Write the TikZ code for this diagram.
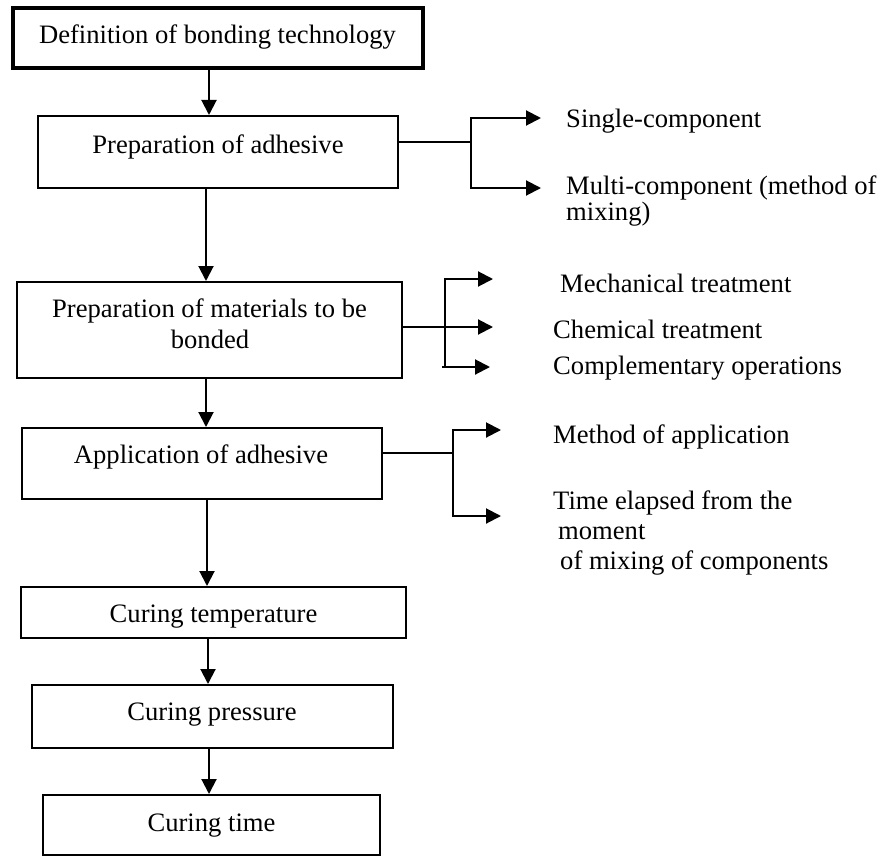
\documentclass[tikz,border=0pt]{standalone}
\usepackage{fontspec}
\setmainfont{Liberation Serif}
\usetikzlibrary{arrows.meta}
\begin{document}
\begin{tikzpicture}[x=1pt,y=-1pt,
  box/.style={draw, line width=2pt, inner sep=0pt, rectangle},
  lbl/.style={font=\fontsize{26.6}{30}\selectfont, inner sep=0pt, anchor=base},
  side/.style={font=\fontsize{26.6}{30}\selectfont, inner sep=0pt, anchor=base west},
  conn/.style={line width=2pt},
  arr/.style={line width=2pt, -{Triangle[length=15pt,width=15pt]}}]
\useasboundingbox (0,0) rectangle (882,856);

% boxes
\node[box, line width=4pt, minimum width=410pt, minimum height=60pt] (b1) at (218,38) {};
\node[box, minimum width=360pt, minimum height=72pt] (b2) at (218,152) {};
\node[box, minimum width=385pt, minimum height=96pt] (b3) at (209.5,330) {};
\node[box, minimum width=360pt, minimum height=71pt] (b4) at (202,463.5) {};
\node[box, minimum width=385pt, minimum height=51pt] (b5) at (213.5,612.5) {};
\node[box, minimum width=361pt, minimum height=63pt] (b6) at (212.5,716.5) {};
\node[box, minimum width=337pt, minimum height=60pt] (b7) at (211.5,825) {};

% box texts
\node[lbl] (t1) at (217.5,43.5) {Definition of bonding technology};
\node[lbl] (t2) at (218,153) {Preparation of adhesive};
\node[lbl] (t3a) at (209.5,317) {Preparation of materials to be};
\node[lbl] (t3b) at (210,348) {bonded};
\node[lbl] (t4) at (201,463) {Application of adhesive};
\node[lbl] (t5) at (213.5,622) {Curing temperature};
\node[lbl] (t6) at (212,720) {Curing pressure};
\node[lbl] (t7) at (211.5,831) {Curing time};

% main arrows
\coordinate (x1) at (209,0);
\coordinate (x2) at (206,0);
\coordinate (x3) at (206,0);
\coordinate (x4) at (207,0);
\coordinate (x5) at (208,0);
\coordinate (x6) at (209,0);
\draw[arr] (b1.south -| x1) -- (b2.north -| x1);
\draw[arr] (b2.south -| x2) -- (b3.north -| x2);
\draw[arr] (b3.south -| x3) -- (b4.north -| x3);
\draw[arr] (b4.south -| x4) -- (b5.north -| x4);
\draw[arr] (b5.south -| x5) -- (b6.north -| x5);
\draw[arr] (b6.south -| x6) -- (b7.north -| x6);

% branch from preparation of adhesive
\coordinate (j2) at (471,142);
\coordinate (j2a) at (471,118);
\coordinate (j2b) at (471,188);
\coordinate (e2a) at (541,118);
\coordinate (e2b) at (541,188);
\draw[conn] (b2.east |- j2) -- (j2);
\draw[arr] (j2) -- (j2a) -- (e2a);
\draw[arr] (j2) -- (j2b) -- (e2b);
\node[side] (s1) at (566,127) {Single-component};
\node[side] (s2a) at (566,194) {Multi-component (method of};
\node[side] (s2b) at (566,220) {mixing)};

% branch from preparation of materials
\coordinate (j3) at (445,327);
\coordinate (j3a) at (445,279);
\coordinate (j3b) at (445,367);
\coordinate (j3c) at (442,367);
\coordinate (e3a) at (493,279);
\coordinate (e3m) at (493,327);
\coordinate (e3b) at (490,367);
\draw[arr] (b3.east |- j3) -- (e3m);
\draw[arr] (j3) -- (j3a) -- (e3a);
\draw[conn] (j3) -- (j3b);
\draw[arr] (j3c) -- (e3b);
\node[side] (s3) at (560,292) {Mechanical treatment};
\node[side] (s4) at (553,338) {Chemical treatment};
\node[side] (s5) at (553,374) {Complementary operations};

% branch from application of adhesive
\coordinate (j4) at (453,453);
\coordinate (j4a) at (453,430);
\coordinate (j4b) at (453,516);
\coordinate (e4a) at (501,430);
\coordinate (e4b) at (501,516);
\draw[conn] (b4.east |- j4) -- (j4);
\draw[arr] (j4) -- (j4a) -- (e4a);
\draw[arr] (j4) -- (j4b) -- (e4b);
\node[side] (s6) at (553,443) {Method of application};
\node[side] (s7a) at (553,509) {Time elapsed from the};
\node[side] (s7b) at (558,539) {moment};
\node[side] (s7c) at (560,569) {of mixing of components};
\end{tikzpicture}
\end{document}
